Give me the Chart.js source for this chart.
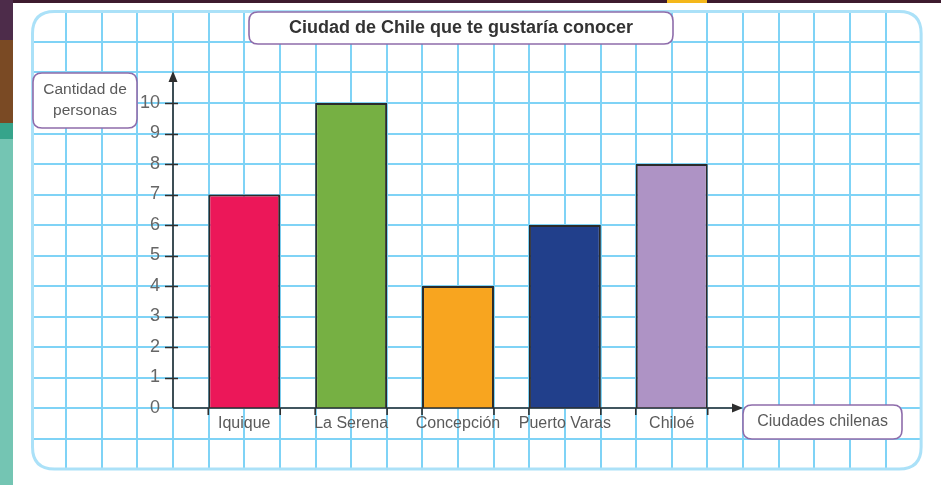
<!DOCTYPE html>
<html lang="es">
<head>
<meta charset="utf-8">
<title>Ciudad de Chile que te gustaría conocer</title>
<script src="https://cdn.jsdelivr.net/npm/chart.js@4"></script>
<style>
  html, body { margin: 0; padding: 0; background: #fff; }
  #caja { width: 941px; height: 485px; }
</style>
</head>
<body>
<div id="caja"><canvas id="grafico" width="941" height="485"></canvas></div>
<script>
// datos del gráfico
const ciudades = ["Iquique", "La Serena", "Concepción", "Puerto Varas", "Chiloé"];
const personas = [7, 10, 4, 6, 8];
const coloresBarras = ["#ec1759", "#76b043", "#f8a51f", "#213f8b", "#ae93c5"];
const marcasY = [0, 1, 2, 3, 4, 5, 6, 7, 8, 9, 10];

const titulo = "Ciudad de Chile que te gustaría conocer";
const tituloEjeY = ["Cantidad de", "personas"];
const tituloEjeX = "Ciudades chilenas";

const fuente = '"Liberation Sans", Arial, Helvetica, sans-serif';
Chart.defaults.font.family = fuente;

function cajaRedonda(ctx, x, y, w, h, r) {
  ctx.beginPath();
  ctx.moveTo(x + r, y);
  ctx.lineTo(x + w - r, y);
  ctx.quadraticCurveTo(x + w, y, x + w, y + r);
  ctx.lineTo(x + w, y + h - r);
  ctx.quadraticCurveTo(x + w, y + h, x + w - r, y + h);
  ctx.lineTo(x + r, y + h);
  ctx.quadraticCurveTo(x, y + h, x, y + h - r);
  ctx.lineTo(x, y + r);
  ctx.quadraticCurveTo(x, y, x + r, y);
  ctx.closePath();
}

function etiqueta(ctx, x, y, w, h, lineas, negrita, tam, color) {
  ctx.save();
  cajaRedonda(ctx, x, y, w, h, 9);
  ctx.fillStyle = "#fff";
  ctx.fill();
  ctx.lineWidth = 1.6;
  ctx.strokeStyle = "#8e6cab";
  ctx.stroke();
  ctx.fillStyle = color;
  ctx.font = (negrita ? "bold " : "") + tam + "px " + fuente;
  ctx.textAlign = "center";
  ctx.textBaseline = "middle";
  const alto = tam * 1.35;
  const y0 = y + h / 2 - (alto * (lineas.length - 1)) / 2;
  lineas.forEach((l, i) => ctx.fillText(l, x + w / 2, y0 + i * alto));
  ctx.restore();
}

// fondo: franjas de la página y cuadrícula del cuaderno
const fondo = {
  id: "fondo",
  beforeDraw(chart) {
    const ctx = chart.ctx;
    const xs = chart.scales.x, ys = chart.scales.y;
    const x0 = chart.chartArea.left;
    const paso = (xs.getPixelForValue(1) - xs.getPixelForValue(0)) / 3;

    ctx.save();
    ctx.fillStyle = "#fff";
    ctx.fillRect(0, 0, chart.width, chart.height);

    // franja izquierda y borde superior
    ctx.fillStyle = "#3d1b2f";
    ctx.fillRect(0, 0, chart.width, 3);
    ctx.fillStyle = "#f4b71a";
    ctx.fillRect(667, 0, 40, 3);
    ctx.fillStyle = "#4d2c4a";
    ctx.fillRect(0, 0, 13, 40);
    ctx.fillStyle = "#7a4a24";
    ctx.fillRect(0, 40, 13, 83);
    ctx.fillStyle = "#36a48b";
    ctx.fillRect(0, 123, 13, 16);
    ctx.fillStyle = "#74c5b3";
    ctx.fillRect(0, 139, 13, chart.height - 139);

    // panel
    const izq = x0 - 4 * paso + 2;
    const der = x0 + 21 * paso;
    const arr = ys.getPixelForValue(13);
    const aba = ys.getPixelForValue(-2);
    cajaRedonda(ctx, izq, arr, der - izq, aba - arr, 22);
    ctx.save();
    ctx.clip();
    ctx.strokeStyle = "#7fd3f6";
    ctx.lineWidth = 2;
    ctx.beginPath();
    for (let k = -3; k <= 20; k++) {
      const x = Math.round(x0 + k * paso);
      ctx.moveTo(x, arr);
      ctx.lineTo(x, aba);
    }
    for (let v = -1; v <= 12; v++) {
      const y = Math.round(ys.getPixelForValue(v));
      ctx.moveTo(izq, y);
      ctx.lineTo(der, y);
    }
    ctx.stroke();
    ctx.restore();

    cajaRedonda(ctx, izq, arr, der - izq, aba - arr, 22);
    ctx.lineWidth = 3;
    ctx.strokeStyle = "#abe1f8";
    ctx.stroke();
    ctx.restore();
  },
  afterDraw(chart) {
    const ctx = chart.ctx;
    const xs = chart.scales.x, ys = chart.scales.y;
    const x0 = chart.chartArea.left;
    const y0 = ys.getPixelForValue(0);
    const yTope = ys.getPixelForValue(11.05);
    const xFin = chart.chartArea.right;

    ctx.save();
    ctx.strokeStyle = "#2e2e2e";
    ctx.fillStyle = "#2e2e2e";
    ctx.lineWidth = 1.6;

    // ejes
    ctx.beginPath();
    ctx.moveTo(x0, y0);
    ctx.lineTo(x0, yTope + 8);
    ctx.moveTo(x0, y0);
    ctx.lineTo(xFin - 8, y0);
    ctx.stroke();

    // flechas
    ctx.beginPath();
    ctx.moveTo(x0, yTope);
    ctx.lineTo(x0 - 4.5, yTope + 11);
    ctx.lineTo(x0 + 4.5, yTope + 11);
    ctx.closePath();
    ctx.fill();
    ctx.beginPath();
    ctx.moveTo(xFin, y0);
    ctx.lineTo(xFin - 11, y0 - 4.5);
    ctx.lineTo(xFin - 11, y0 + 4.5);
    ctx.closePath();
    ctx.fill();

    // marcas del eje y
    ctx.beginPath();
    ys.ticks.forEach(t => {
      if (t.value <= 0) return;
      const y = Math.round(ys.getPixelForValue(t.value)) + 0.5;
      ctx.moveTo(x0 - 8, y);
      ctx.lineTo(x0 + 5, y);
    });
    // marcas del eje x en los bordes de cada barra
    chart.getDatasetMeta(0).data.forEach(b => {
      const a = b.width / 2;
      ctx.moveTo(b.x - a, y0);
      ctx.lineTo(b.x - a, y0 + 7);
      ctx.moveTo(b.x + a, y0);
      ctx.lineTo(b.x + a, y0 + 7);
    });
    ctx.stroke();
    ctx.restore();

    // recuadros de texto
    etiqueta(ctx, 249, 12, 424, 32, [titulo], true, 18, "#333");
    etiqueta(ctx, 33, 73, 104, 55, tituloEjeY, false, 15.5, "#5a5a5a");
    etiqueta(ctx, 743, 405, 159, 34, [tituloEjeX], false, 16, "#5a5a5a");
  }
};

const datos = personas.map((v, i) => ({ x: i, y: v }));

new Chart(document.getElementById("grafico"), {
  type: "bar",
  data: {
    datasets: [{
      data: datos,
      backgroundColor: coloresBarras,
      borderColor: "#2b2b2b",
      borderWidth: 2,
      categoryPercentage: 1,
      barPercentage: 0.673
    }]
  },
  options: {
    responsive: false,
    animation: false,
    layout: { padding: { left: 133, right: 198, top: 103, bottom: 47 } },
    plugins: {
      legend: { display: false },
      tooltip: { enabled: false },
      title: { display: false }
    },
    scales: {
      x: {
        type: "linear",
        offset: false,
        min: -2 / 3,
        max: 14 / 3,
        grid: { display: false, drawTicks: false, offset: false },
        border: { display: false },
        ticks: {
          stepSize: 1,
          includeBounds: false,
          autoSkip: false,
          maxRotation: 0,
          padding: 6,
          color: "#5a5a5a",
          font: { size: 16 },
          callback: v => ciudades[v] ?? ""
        },
        afterFit: s => { s.height = 30; }
      },
      y: {
        min: marcasY[0],
        max: marcasY[marcasY.length - 1],
        grid: { display: false, drawTicks: false },
        border: { display: false },
        ticks: {
          stepSize: 1,
          padding: 13,
          color: "#666",
          font: { size: 18 }
        },
        afterFit: s => { s.width = 40; }
      }
    }
  },
  plugins: [fondo]
});
</script>
</body>
</html>
